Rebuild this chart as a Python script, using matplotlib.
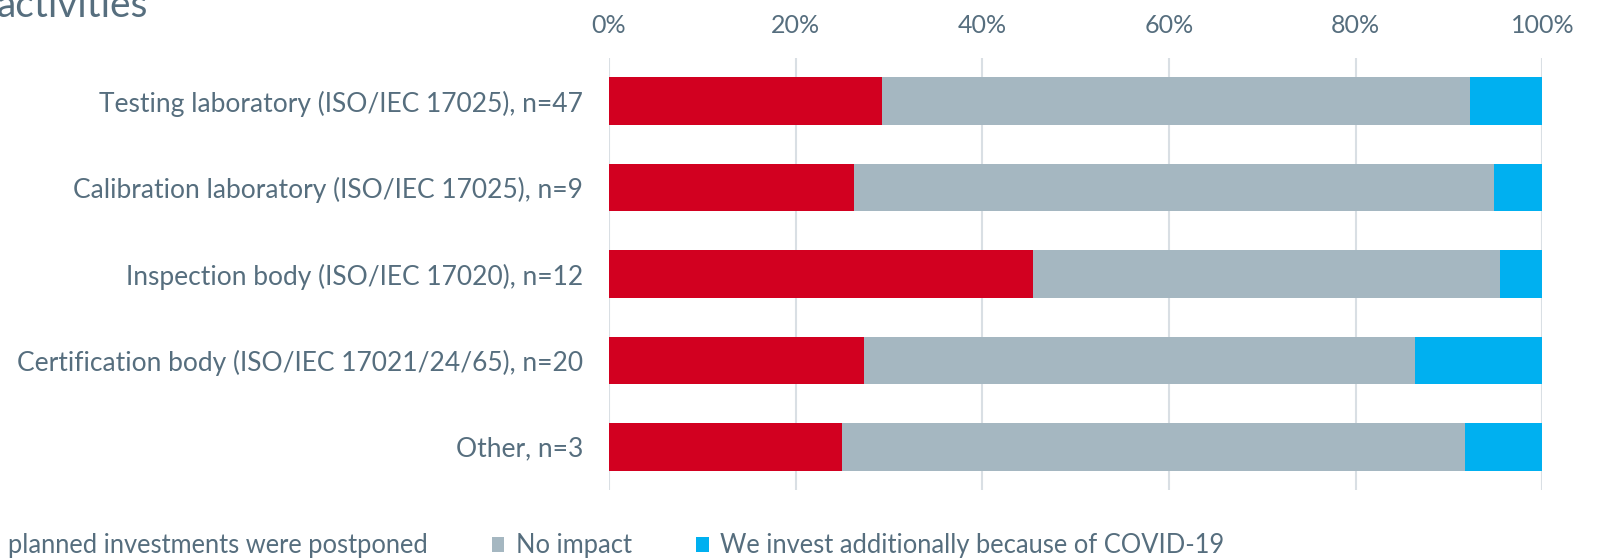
import matplotlib
matplotlib.use("Agg")
import matplotlib.pyplot as plt
from matplotlib.ticker import PercentFormatter

TEXT_COLOR = "#566E7E"
GRID_COLOR = "#D9DFE4"
RED = "#D20020"
GRAY = "#A5B7C1"
BLUE = "#00B0F0"

plt.rcParams["font.family"] = ["Lato", "DejaVu Sans"]

categories = [
    "Testing laboratory (ISO/IEC 17025), n=47",
    "Calibration laboratory (ISO/IEC 17025), n=9",
    "Inspection body (ISO/IEC 17020), n=12",
    "Certification body (ISO/IEC 17021/24/65), n=20",
    "Other, n=3",
]
postponed = [29.2, 26.3, 45.4, 27.3, 25.0]
no_impact = [63.0, 68.5, 50.1, 59.1, 66.7]
invest_more = [7.8, 5.2, 4.5, 13.6, 8.3]

series_names = [
    "planned investments were postponed",
    "No impact",
    "We invest additionally because of COVID-19",
]

fig = plt.figure(figsize=(15.98, 5.6), dpi=100)
ax = fig.add_axes([609 / 1598, 1 - 490 / 560, (1542.3 - 609) / 1598, 432 / 560])

y = list(range(len(categories)))
left2 = [a for a in postponed]
left3 = [a + b for a, b in zip(postponed, no_impact)]

h1 = ax.barh(y, postponed, height=0.55, color=RED, zorder=3)
h2 = ax.barh(y, no_impact, left=left2, height=0.55, color=GRAY, zorder=3)
h3 = ax.barh(y, invest_more, left=left3, height=0.55, color=BLUE, zorder=3)

ax.set_ylim(4.5, -0.5)
ax.set_xlim(0, 100)
ax.set_yticks(y)
ax.set_yticklabels(categories)
ax.set_xticks(range(0, 101, 20))
ax.xaxis.set_major_formatter(PercentFormatter(decimals=0))
ax.xaxis.tick_top()
ax.tick_params(axis="x", length=0, pad=15, labelsize=18, colors=TEXT_COLOR)
ax.tick_params(axis="y", length=0, pad=18.7, labelsize=19, colors=TEXT_COLOR)
ax.grid(axis="x", color=GRID_COLOR, linewidth=1.5, zorder=0)
for s in ax.spines.values():
    s.set_visible(False)

fig.text(-0.002, 1 - 17 / 560, "activities", fontsize=28, color=TEXT_COLOR,
         va="baseline", ha="left")

fs = 18.4
fs_px = fs * 100 / 72
hl, htp = 0.5, 0.45
leg = fig.legend(
    [h1, h2, h3], series_names,
    loc="center left",
    bbox_to_anchor=((8 - (hl + htp) * fs_px) / 1598, 1 - 546 / 560),
    ncol=3, frameon=False, fontsize=fs,
    handlelength=hl, handleheight=hl, handletextpad=htp,
    columnspacing=2.5, borderpad=0, borderaxespad=0,
    labelcolor=TEXT_COLOR,
)

fig.savefig("out.png", dpi=100)
